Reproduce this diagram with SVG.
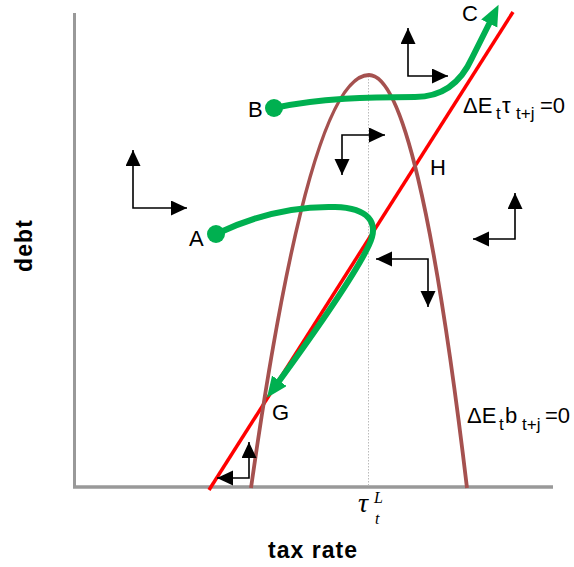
<svg xmlns="http://www.w3.org/2000/svg" width="574" height="567" viewBox="0 0 574 567">
<style>
.axis{stroke:#999;fill:none}
.red{stroke:#FF0000;stroke-width:3.5;fill:none}
.brown{stroke:#A5514F;stroke-width:3.8;fill:none}
.green{stroke:#00B050;stroke-width:6;fill:none;stroke-linecap:round}
.arr{stroke:#000;stroke-width:1.6;fill:none;marker-start:url(#ah);marker-end:url(#ah)}
.lbl{font-family:"Liberation Sans",Arial,sans-serif;font-size:22px;fill:#000}
.sub{font-size:17px}
.ttl{font-family:"Liberation Sans",Arial,sans-serif;font-size:23px;font-weight:bold;fill:#000}
.math{font-family:"Liberation Serif","Times New Roman",serif;font-style:italic;fill:#000}
</style>
<defs>
<marker id="ah" markerUnits="userSpaceOnUse" markerWidth="16" markerHeight="16" refX="16" refY="7.5" orient="auto-start-reverse">
<path d="M0,0 L16,7.5 L0,15 z" fill="#000"/>
</marker>
<marker id="gh" markerUnits="userSpaceOnUse" markerWidth="22" markerHeight="20" refX="4" refY="9" orient="auto">
<path d="M0,0 L21,9 L0,18 z" fill="#00B050"/>
</marker>
</defs>
<g id="axes">
<line class="axis" x1="74.5" y1="13" x2="74.5" y2="488" stroke-width="3"/>
<line class="axis" x1="73" y1="487" x2="553" y2="487" stroke-width="3.5"/>
<line x1="368.5" y1="76" x2="368.5" y2="486" stroke="#bbb" stroke-width="1" stroke-dasharray="1.5,1.5"/>
</g>
<g id="curves">
<path id="tau-line" class="red" d="M209,490 L513,12"/>
<path id="b-curve" class="brown" d="M251,488 Q309.5,75 369,75 Q418,75 467,488"/>
</g>
<g id="connectors">
<path id="pathB" class="green" d="M274,108 C320,98 370,97 415,97 C445,97 462,80 472,58 L491,20" marker-end="url(#gh)"/>
<path id="pathA" class="green" d="M216,234 C258,214 300,206 335,207 C368,208 380,222 369,245 C355,275 320,325 277,384" marker-end="url(#gh)"/>
<circle cx="274" cy="108" r="9" fill="#00B050"/>
<circle cx="216" cy="234" r="9" fill="#00B050"/>
<path class="arr" d="M408,28 L408,76 L448,76"/>
<path class="arr" d="M385,135 L342,135 L342,175"/>
<path class="arr" d="M133,150 L133,208 L187,208"/>
<path class="arr" d="M515,193 L515,239 L473,239"/>
<path class="arr" d="M376,259 L428,259 L428,307"/>
<path class="arr" d="M249,442 L249,478 L217,478"/>
</g>
<g id="labels">
<text class="lbl" x="462" y="21">C</text>
<text class="lbl" x="248" y="117">B</text>
<text class="lbl" x="189" y="246">A</text>
<text class="lbl" x="272" y="420">G</text>
<text class="lbl" x="430" y="175">H</text>
<text class="lbl"><tspan x="463" y="113">ΔE</tspan><tspan class="sub" x="496" y="119">t</tspan><tspan x="502" y="113">τ</tspan><tspan class="sub" x="516" y="119">t+j</tspan><tspan x="540" y="113">=0</tspan></text>
<text class="lbl"><tspan x="467" y="423">ΔE</tspan><tspan class="sub" x="499" y="430">t</tspan><tspan x="505" y="423">b</tspan><tspan class="sub" x="522" y="430">t+j</tspan><tspan x="545" y="423">=0</tspan></text>
<text class="math" x="358" y="512" font-size="28">τ</text>
<text class="math" x="374" y="503" font-size="16">L</text>
<text class="math" x="375" y="524" font-size="16">t</text>
<text class="ttl" x="312.5" y="558" text-anchor="middle" textLength="89" lengthAdjust="spacing">tax rate</text>
<text class="ttl" transform="translate(32,246) rotate(-90)" text-anchor="middle" textLength="52" lengthAdjust="spacing">debt</text>
</g>
</svg>
